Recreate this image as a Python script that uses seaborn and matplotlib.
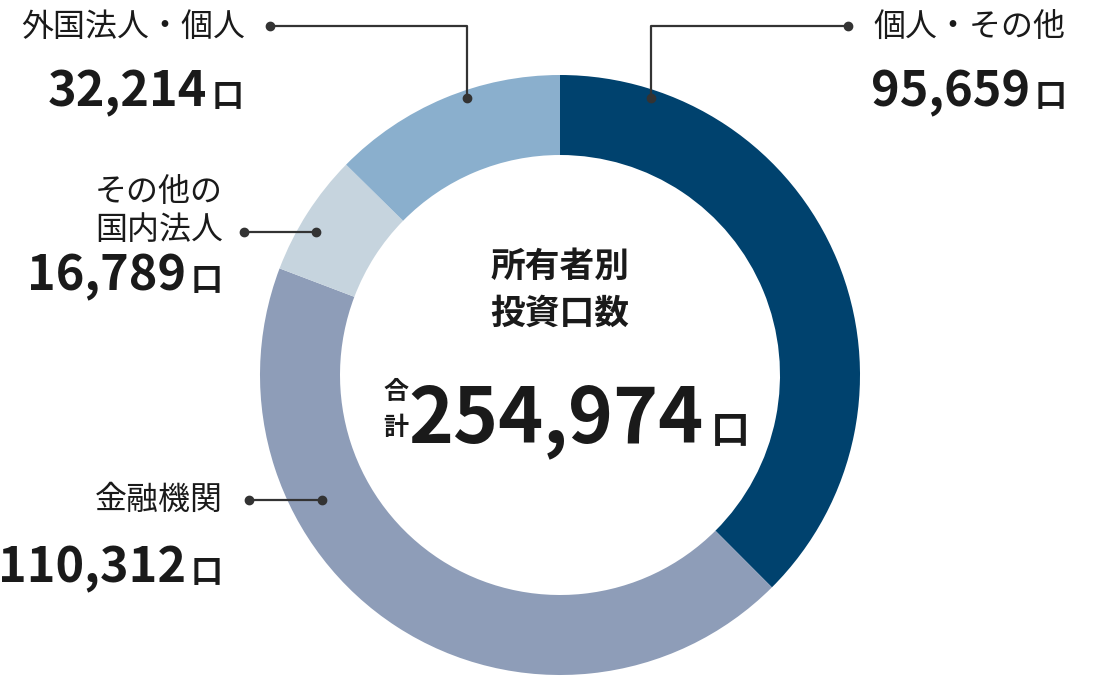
import seaborn as sns
import matplotlib.pyplot as plt

# 所有者別 投資口数
kategoriat = ["個人・その他", "金融機関", "その他の\n国内法人", "外国法人・個人"]
arvot = [95659, 110312, 16789, 32214]
varit = ["#00426e", "#8e9db8", "#c6d4de", "#8aafcd"]
yhteensa = sum(arvot)

sns.set_theme(style="white")
plt.rcParams['font.family'] = ['Noto Sans CJK JP', 'DejaVu Sans']

fig = plt.figure(figsize=(11.2, 6.76), dpi=100)
ax = fig.add_axes([0, 0, 1, 1])

# y-akseli käännetty, joten kulmat myös
ax.pie(arvot, colors=sns.color_palette(varit), center=(560, 375), radius=300,
       startangle=-90, counterclock=True,
       wedgeprops=dict(width=80, linewidth=0))
ax.set_xlim(0, 1120)
ax.set_ylim(676, 0)
ax.set_aspect('equal')
ax.axis('off')

teksti = "#1a1a1a"
viiva = "#333333"
nimikoko = 23

def johto(pisteet):
    xs = [p[0] for p in pisteet]
    ys = [p[1] for p in pisteet]
    ax.plot(xs, ys, color=viiva, lw=1.6, zorder=5)
    ax.plot([xs[0], xs[-1]], [ys[0], ys[-1]], "o", color=viiva, ms=6, zorder=6)

def luku(x, y, arvo, rako=37):
    # numero + pienempi 口 oikealle tasattuna
    ax.text(x, y, "口", ha="right", va="baseline", fontsize=23,
            fontweight="bold", color=teksti)
    ax.text(x - rako, y, f"{arvo:,}", ha="right", va="baseline", fontsize=35,
            fontweight="bold", color=teksti)

# 個人・その他
johto([(848, 26), (651, 26), (651, 98)])
ax.text(873, 27, kategoriat[0], ha="left", va="center", fontsize=nimikoko, color=teksti)
luku(1067, 106, arvot[0])

# 外国法人・個人
johto([(270, 26), (467, 26), (467, 98)])
ax.text(245, 27, kategoriat[3], ha="right", va="center", fontsize=nimikoko, color=teksti)
luku(244, 106, arvot[3])

# その他の国内法人
johto([(244, 232), (316, 232)])
ax.text(223, 211, kategoriat[2], ha="right", va="center", fontsize=nimikoko,
        color=teksti, linespacing=1.2)
luku(223, 290, arvot[2])

# 金融機関
johto([(249, 500), (322, 500)])
ax.text(223, 500, kategoriat[1], ha="right", va="center", fontsize=nimikoko, color=teksti)
luku(223, 582, arvot[1])

# keskiteksti
ax.text(560, 266, "所有者別", ha="center", va="center", fontsize=25,
        fontweight="bold", color=teksti)
ax.text(560, 313, "投資口数", ha="center", va="center", fontsize=25,
        fontweight="bold", color=teksti)
ax.text(396, 392, "合", ha="center", va="center", fontsize=18,
        fontweight="bold", color=teksti)
ax.text(396, 428, "計", ha="center", va="center", fontsize=18,
        fontweight="bold", color=teksti)
ax.text(704, 442, f"{yhteensa:,}", ha="right", va="baseline", fontsize=55,
        fontweight="bold", color=teksti)
ax.text(750, 442, "口", ha="right", va="baseline", fontsize=28,
        fontweight="bold", color=teksti)

fig.savefig("out.png", dpi=100)
